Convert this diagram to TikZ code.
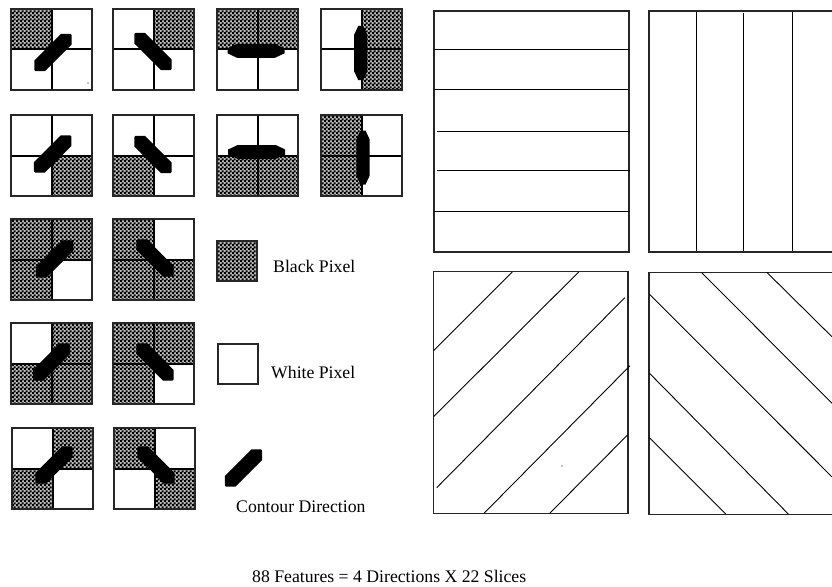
\documentclass[tikz,border=0pt]{standalone}
\usepackage{fontspec}
\setmainfont{Liberation Serif}
\usetikzlibrary{patterns}
\pgfdeclarepatternformonly{checker}{\pgfpointorigin}{\pgfqpoint{4pt}{4pt}}{\pgfqpoint{4pt}{4pt}}{%
  \pgfpathrectangle{\pgfpointorigin}{\pgfqpoint{2.35pt}{2.35pt}}%
  \pgfpathrectangle{\pgfqpoint{2pt}{2pt}}{\pgfqpoint{2.35pt}{2.35pt}}%
  \pgfusepath{fill}}
\tikzset{
  checkfill/.style={fill=black!28, postaction={pattern=checker, pattern color=black}},
  cellborder/.style={draw=black!85, line width=1.5pt},
  divider/.style={draw=black, line width=2pt},
  bigbox/.style={draw=black!85, line width=1.1pt},
  sliceline/.style={draw=black, line width=0.9pt},
  lbl/.style={font=\fontsize{17.7}{20}\selectfont, inner sep=0pt},
  gslash/.pic={\fill (18.74,-17.32) -- (18.74,-8.13) -- (-8.13,18.74) -- (-17.32,18.74)
     -- (-18.74,17.32) -- (-18.74,8.13) -- (8.13,-18.74) -- (17.32,-18.74) -- cycle;},
  gback/.pic={\fill (-18.74,-17.32) -- (-18.74,-8.13) -- (8.13,18.74) -- (17.32,18.74)
     -- (18.74,17.32) -- (18.74,8.13) -- (-8.13,-18.74) -- (-17.32,-18.74) -- cycle;},
  ghor/.pic={\fill (28.5,2.5) -- (19,7) -- (-19,7) -- (-28.5,2.5) -- (-28.5,-2.5) -- (-19,-7)
     -- (19,-7) -- (28.5,-2.5) -- cycle;},
  gver/.pic={\fill (2.5,27) -- (6.7,18) -- (6.7,-18) -- (2.5,-27) -- (-2.5,-27) -- (-6.7,-18)
     -- (-6.7,18) -- (-2.5,27) -- cycle;},
}
\newcommand\pixcell[6]{%
  \begin{scope}[shift={(#1,#2)}]
    \ifnum#3=1 \path[checkfill] (0,0) rectangle (40.5,40.5);\fi
    \ifnum#4=1 \path[checkfill] (40.5,0) rectangle (81,40.5);\fi
    \ifnum#5=1 \path[checkfill] (0,40.5) rectangle (40.5,81);\fi
    \ifnum#6=1 \path[checkfill] (40.5,40.5) rectangle (81,81);\fi
    \draw[divider] (40.5,0) -- (40.5,81) (0,40.5) -- (81,40.5);
    \draw[cellborder] (0,0) rectangle (81,81);
  \end{scope}}
\begin{document}
\begin{tikzpicture}[x=1pt,y=-1pt]
\useasboundingbox (0,0) rectangle (832,586);
\fill[white] (0,0) rectangle (832,586);
% row 1
\pixcell{11}{9}{1}{0}{0}{0}
\pixcell{113}{9}{0}{1}{0}{0}
\pixcell{217}{9}{1}{1}{0}{0}
\pixcell{321}{9}{0}{1}{0}{1}
\pic at (53,52.5) {gslash};
\pic at (153,51.5) {gback};
\pic at (256,50.8) {ghor};
\pic at (360.7,53) {gver};
\fill (88,83) circle (0.6);
% row 2
\pixcell{11}{115}{0}{0}{0}{1}
\pixcell{113}{115}{0}{0}{1}{0}
\pixcell{217}{115}{0}{0}{1}{1}
\pixcell{321}{115}{1}{0}{1}{0}
\pic at (52.7,154) {gslash};
\pic at (153,154.5) {gback};
\pic at (256.7,152) {ghor};
\pic at (363,157.5) {gver};
% row 3
\pixcell{11}{219}{1}{1}{1}{0}
\pixcell{113}{219}{1}{0}{1}{1}
\pic at (54.5,259) {gslash};
\pic at (155,258) {gback};
% row 4
\pixcell{11}{323}{0}{1}{1}{1}
\pixcell{113}{323}{1}{1}{1}{0}
\pic at (51.5,362) {gslash};
\pic at (155,362) {gback};
% row 5
\pixcell{12}{428}{0}{1}{1}{0}
\pixcell{114}{428}{1}{0}{0}{1}
\pic at (54,465) {gslash};
\pic at (156,465) {gback};
% legend
\path[checkfill] (217,241) rectangle (257,281);
\draw[cellborder] (217,241) rectangle (257,281);
\node[lbl, anchor=west] (black) at (273,266) {Black Pixel};
\draw[cellborder] (218,344) rectangle (258,384);
\node[lbl, anchor=west] (white) at (271,372) {White Pixel};
\pic at (243.5,468) {gslash};
\node[lbl, anchor=west] (contour) at (236,507) {Contour Direction};
% horizontal slices
\draw[bigbox] (434,11) rectangle (629,252);
\draw[sliceline] (434,49.3) -- (629,49.3);
\draw[sliceline] (434,89.3) -- (628,89.3);
\draw[sliceline] (437,131.7) -- (630,131.7);
\draw[sliceline] (437,170.3) -- (630,170.3);
\draw[sliceline] (434,211) -- (629,211);
% vertical slices
\draw[bigbox] (832,11) -- (649,11) -- (649,252) -- (832,252);
\draw[sliceline] (696.3,12.5) -- (696.3,251);
\draw[sliceline] (743.7,13.5) -- (743.7,251);
\draw[sliceline] (792,12.5) -- (792,251);
% diagonal slices /
\draw[bigbox] (433.3,271.7) rectangle (628,513.3);
\draw[sliceline] (433.5,350.7) -- (512.3,272);
\draw[sliceline] (433.5,416.7) -- (578.7,272);
\draw[sliceline] (436.7,487.7) -- (624.7,297.7);
\draw[sliceline] (484.3,513) -- (630,365.7);
\draw[sliceline] (550,513) -- (627.5,435);
\fill (562,466) circle (0.6);
% diagonal slices \
\draw[bigbox] (832,272.7) -- (649,272.7) -- (649,514.3) -- (832,514.3);
\draw[sliceline] (649.5,294.3) -- (832,476.9);
\draw[sliceline] (701.7,272.7) -- (832,403.3);
\draw[sliceline] (766.7,272.2) -- (832,336.8);
\draw[sliceline] (649.5,373.3) -- (788.3,514);
\draw[sliceline] (649.5,437.7) -- (725.7,514);
% caption
\node[lbl] (caption) at (389.2,576) {88 Features = 4 Directions X 22 Slices};
\end{tikzpicture}
\end{document}
